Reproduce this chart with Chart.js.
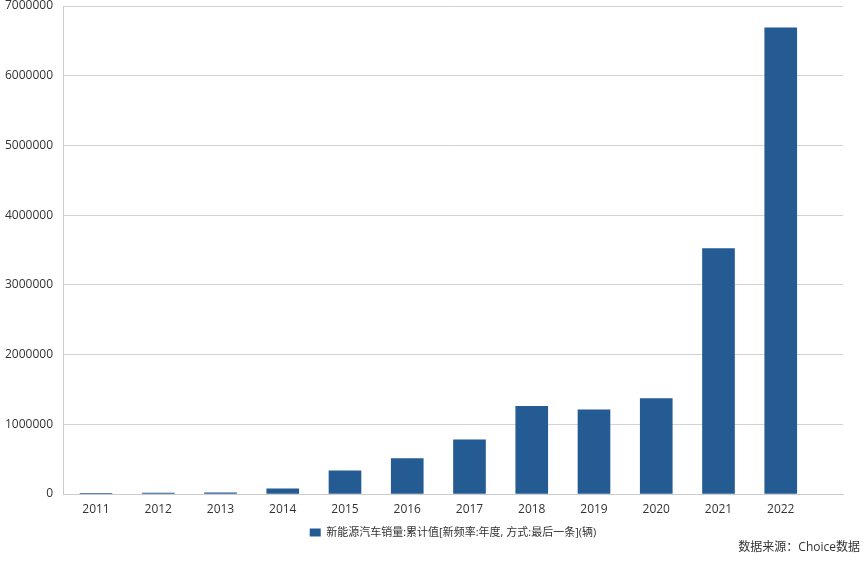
<!DOCTYPE html>
<html>
<head>
<meta charset="utf-8">
<script src="https://cdn.jsdelivr.net/npm/chart.js@4.4.1/dist/chart.umd.min.js"></script>
<style>
  html, body { margin: 0; padding: 0; background: #fff; }
  #wrap { width: 864px; height: 561px; }
</style>
</head>
<body>
<div id="wrap"><canvas id="chart"></canvas></div>
<script>
// 新能源汽车销量 (辆)
const years = [2011, 2012, 2013, 2014, 2015, 2016, 2017, 2018, 2019, 2020, 2021, 2022];
const sales = [8159, 12791, 17642, 74763, 331092, 507000, 777000, 1256000, 1206000, 1367000, 3521000, 6688000];
const yTicks = [0, 1000000, 2000000, 3000000, 4000000, 5000000, 6000000, 7000000];

const seriesName = '新能源汽车销量:累计值[新频率:年度, 方式:最后一条](辆)';
const sourceText = '数据来源：Choice数据';

const FONT = '"Open Sans", "Noto Sans CJK SC", sans-serif';
const barColor = '#255b93';

// source note in the bottom right corner
const sourceNote = {
  id: 'sourceNote',
  afterDraw(chart) {
    const c = chart.ctx;
    c.save();
    c.font = '12px ' + FONT;
    c.fillStyle = '#333333';
    c.textAlign = 'right';
    c.textBaseline = 'middle';
    c.fillText(sourceText, 860, 548);
    c.restore();
  }
};

const ctx = document.getElementById('chart').getContext('2d');
new Chart(ctx, {
  type: 'bar',
  data: {
    datasets: [{
      label: seriesName,
      data: years.map((y, i) => ({ x: y, y: sales[i] })),
      backgroundColor: barColor,
      borderWidth: 0,
      barThickness: 32
    }]
  },
  plugins: [sourceNote],
  options: {
    responsive: true,
    maintainAspectRatio: false,
    animation: false,
    layout: { padding: { top: 6, right: 21, left: 0, bottom: 13 } },
    scales: {
      x: {
        type: 'linear',
        offset: false,
        min: 2010.47,
        max: 2023,
        afterBuildTicks: scale => { scale.ticks = years.map(v => ({ value: v })); },
        afterFit: scale => { scale.height = 25; },
        grid: { display: false, drawTicks: false },
        border: { display: true, color: '#cccccc' },
        ticks: {
          color: '#333333',
          font: { family: FONT, size: 12 },
          padding: 8,
          maxRotation: 0,
          autoSkip: false,
          callback: v => String(v)
        }
      },
      y: {
        min: 0,
        max: 7000000,
        z: 1,
        afterBuildTicks: scale => { scale.ticks = yTicks.map(v => ({ value: v })); },
        afterFit: scale => { scale.width = 63; scale.paddingTop = 0; scale.paddingBottom = 0; },
        grid: { color: 'rgba(140,140,140,0.38)', drawTicks: false },
        border: { display: true, color: '#cccccc' },
        ticks: {
          color: '#333333',
          font: { family: FONT, size: 12 },
          padding: 10,
          callback: v => String(v)
        }
      }
    },
    plugins: {
      legend: {
        position: 'bottom',
        fullSize: false,
        labels: {
          boxWidth: 11,
          boxHeight: 8,
          padding: 8,
          color: '#333333',
          font: { family: FONT, size: 11 }
        }
      },
      tooltip: { enabled: false }
    }
  }
});
</script>
</body>
</html>
